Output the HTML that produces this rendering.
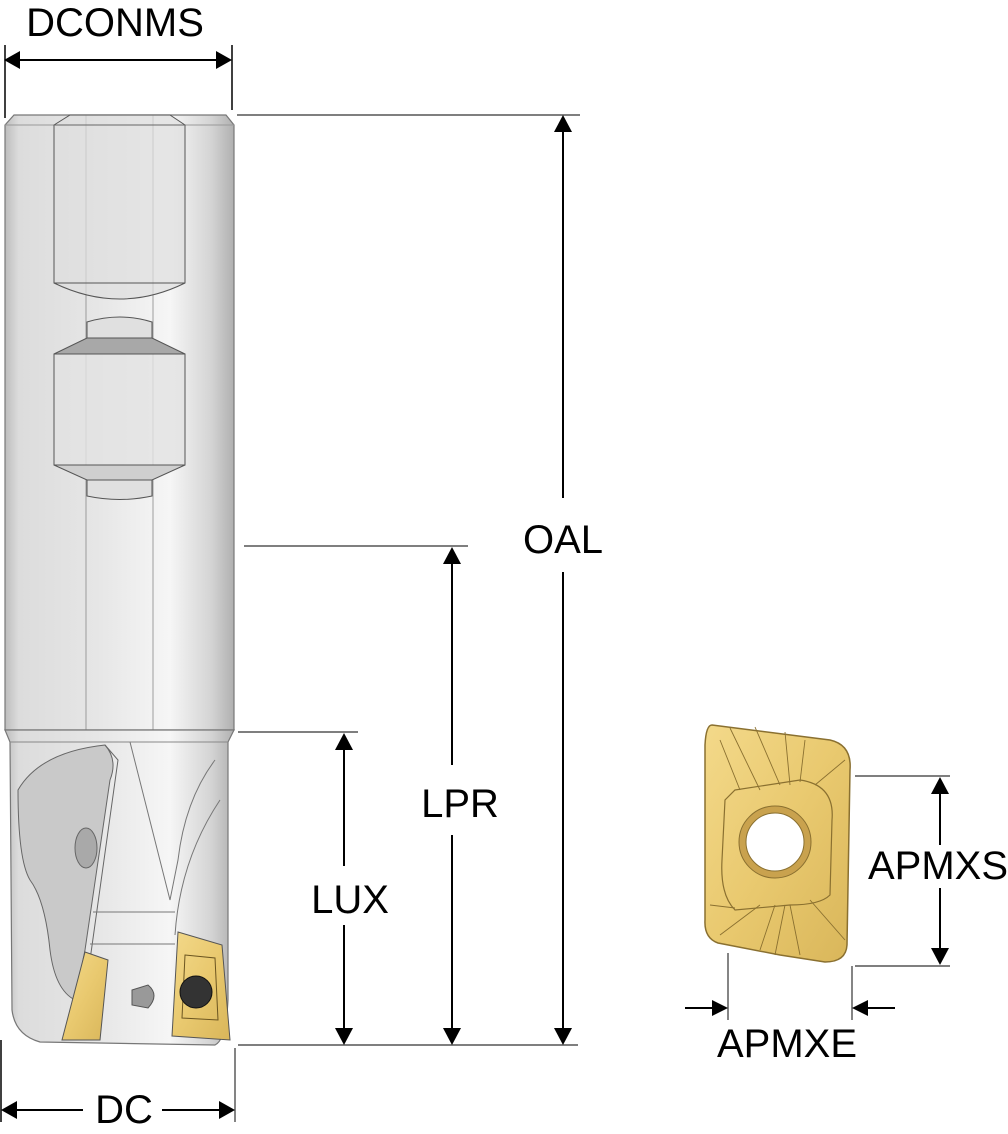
<!DOCTYPE html>
<html><head><meta charset="utf-8"><style>
html,body{margin:0;padding:0;background:#fff;}
svg{display:block;}
text{font-family:"Liberation Sans",sans-serif;font-size:40px;fill:#000;}
</style></head><body>
<svg width="1008" height="1134" viewBox="0 0 1008 1134" xmlns="http://www.w3.org/2000/svg">
<defs>
<linearGradient id="sh" x1="0" x2="1" y1="0" y2="0">
<stop offset="0" stop-color="#bdbdbd"/>
<stop offset="0.06" stop-color="#dcdcdc"/>
<stop offset="0.4" stop-color="#e6e6e6"/>
<stop offset="0.72" stop-color="#f6f6f6"/>
<stop offset="0.9" stop-color="#d4d4d4"/>
<stop offset="1" stop-color="#b0b0b0"/>
</linearGradient>
<linearGradient id="gold" x1="0" x2="1" y1="0" y2="1">
<stop offset="0" stop-color="#f3d98a"/>
<stop offset="0.5" stop-color="#e9c96f"/>
<stop offset="1" stop-color="#d9b65a"/>
</linearGradient>
</defs>
<path d="M5 125 L14 115 L226 115 L234 125 L234 730 L5 730 Z" fill="url(#sh)" stroke="#777" stroke-width="1.2"/>
<line x1="5" y1="125" x2="234" y2="125" stroke="#999" stroke-width="1"/>
<line x1="86" y1="115" x2="86" y2="730" stroke="#888" stroke-width="0.8"/>
<line x1="153" y1="115" x2="153" y2="730" stroke="#888" stroke-width="0.8"/>
<path d="M54 125 L70 115 L170 115 L185 125 L185 283 Q120 315 54 283 Z" fill="#dedede" fill-opacity="0.7" stroke="#555" stroke-width="1"/>
<line x1="54" y1="283" x2="185" y2="283" stroke="#555" stroke-width="1"/>
<line x1="54" y1="125" x2="185" y2="125" stroke="#666" stroke-width="1"/>
<path d="M87 338 L87 322 Q120 312 152 322 L152 338 Z" fill="#e0e0e0" stroke="#555" stroke-width="1"/>
<path d="M87 338 L152 338 L185 354 L54 354 Z" fill="#a8a8a8" stroke="#555" stroke-width="1"/>
<rect x="54" y="354" width="131" height="111" fill="#e2e2e2" fill-opacity="0.8" stroke="#555" stroke-width="1"/>
<path d="M54 465 L185 465 L152 480 L87 480 Z" fill="#cfcfcf" stroke="#555" stroke-width="1"/>
<path d="M87 480 L152 480 L152 496 Q120 503 87 496 Z" fill="#e0e0e0" stroke="#555" stroke-width="1"/>
<path d="M5 730 L234 730 L228 742 L228 1000 Q226 1040 215 1045 L40 1042 Q15 1035 12 1010 L10 742 Z" fill="url(#sh)" stroke="#777" stroke-width="1.2"/>
<line x1="10" y1="742" x2="228" y2="742" stroke="#888" stroke-width="1"/>
<path d="M18 790 Q40 752 105 745 Q118 760 110 780 L85 950 L75 1000 Q55 990 50 950 Q45 900 30 880 Q18 860 18 790 Z" fill="#c9c9c9" stroke="#666" stroke-width="1"/>
<path d="M105 745 L118 760 L90 960" fill="none" stroke="#666" stroke-width="1"/>
<ellipse cx="86" cy="848" rx="11" ry="20" fill="#a9a9a9" stroke="#666"/>
<path d="M130 742 L170 900 L178 860 Q185 800 215 760" fill="none" stroke="#777" stroke-width="1"/>
<path d="M175 935 Q180 860 220 800" fill="none" stroke="#777" stroke-width="1"/>
<line x1="93" y1="912" x2="175" y2="912" stroke="#777" stroke-width="1"/>
<line x1="90" y1="944" x2="175" y2="944" stroke="#777" stroke-width="1"/>
<path d="M85 952 L108 960 L100 1040 L62 1040 Z" fill="url(#gold)" stroke="#555" stroke-width="1"/>
<path d="M178 932 L222 945 L230 1040 L172 1036 Z" fill="url(#gold)" stroke="#555" stroke-width="1"/>
<path d="M185 955 L215 958 L218 1020 L182 1018 Z" fill="none" stroke="#6b5520" stroke-width="1"/>
<circle cx="196" cy="992" r="16" fill="#333" stroke="#111"/>
<path d="M132 990 L148 985 Q160 995 148 1008 L132 1005 Z" fill="#999" stroke="#555"/>
<path d="M712 725 L830 740 Q852 745 850 770 L847 945 Q846 962 825 962 L780 955 L718 943 Q704 938 705 920 L705 745 Q706 725 712 725 Z" fill="url(#gold)" stroke="#8a7030" stroke-width="1.5"/>
<path d="M735 790 L800 780 Q835 785 832 820 L830 895 Q820 905 790 905 L735 910 Q720 895 722 860 L725 800 Z" fill="none" stroke="#8a7030" stroke-width="1.2"/>
<g stroke="#8a7030" stroke-width="0.9" fill="none">
<line x1="720" y1="740" x2="740" y2="790"/><line x1="755" y1="727" x2="780" y2="785"/>
<line x1="785" y1="732" x2="790" y2="785"/><line x1="845" y1="760" x2="815" y2="785"/>
<line x1="720" y1="935" x2="760" y2="905"/><line x1="775" y1="955" x2="785" y2="905"/>
<line x1="800" y1="955" x2="790" y2="905"/><line x1="845" y1="940" x2="810" y2="900"/>
<line x1="730" y1="728" x2="760" y2="790"/><line x1="805" y1="740" x2="800" y2="782"/>
<line x1="710" y1="905" x2="735" y2="908"/><line x1="760" y1="950" x2="775" y2="905"/>
</g>
<circle cx="775" cy="842" r="36" fill="#c9a24e" stroke="#8a7030"/>
<circle cx="775" cy="842" r="29" fill="#fff" stroke="#8a7030"/>
<g stroke="#000" stroke-width="2" fill="none">
<line x1="5" y1="45" x2="5" y2="118" stroke-width="1.5"/>
<line x1="232" y1="45" x2="232" y2="110" stroke-width="1.5"/>
<line x1="20" y1="60" x2="218" y2="60"/>
<line x1="563" y1="130" x2="563" y2="498"/>
<line x1="563" y1="572" x2="563" y2="1030"/>
<line x1="452" y1="562" x2="452" y2="765"/>
<line x1="452" y1="835" x2="452" y2="1030"/>
<line x1="344" y1="747" x2="344" y2="866"/>
<line x1="344" y1="925" x2="344" y2="1030"/>
<line x1="16" y1="1110" x2="83" y2="1110"/>
<line x1="162" y1="1110" x2="222" y2="1110"/>
<line x1="1" y1="1040" x2="1" y2="1122" stroke-width="1.5"/>
<line x1="940" y1="790" x2="940" y2="845"/>
<line x1="940" y1="888" x2="940" y2="952"/>
<line x1="685" y1="1008" x2="714" y2="1008"/>
<line x1="866" y1="1008" x2="895" y2="1008"/>
</g>
<g stroke="#333" stroke-width="1.2">
<line x1="237" y1="115" x2="580" y2="115"/>
<line x1="244" y1="546" x2="468" y2="546"/>
<line x1="238" y1="732" x2="358" y2="732"/>
<line x1="238" y1="1045" x2="578" y2="1045"/>
<line x1="235" y1="1048" x2="235" y2="1122"/>
<line x1="855" y1="776" x2="950" y2="776"/>
<line x1="855" y1="966" x2="950" y2="966"/>
<line x1="728" y1="953" x2="728" y2="1020"/>
<line x1="852" y1="966" x2="852" y2="1020"/>
</g>
<g fill="#000">
<polygon points="4,60 20,51 20,69"/><polygon points="232,60 216,51 216,69"/>
<polygon points="563,115 554,132 572,132"/><polygon points="563,1045 554,1028 572,1028"/>
<polygon points="452,547 443,564 461,564"/><polygon points="452,1045 443,1028 461,1028"/>
<polygon points="344,733 335,750 353,750"/><polygon points="344,1045 335,1028 353,1028"/>
<polygon points="1,1110 17,1101 17,1119"/><polygon points="235,1110 219,1101 219,1119"/>
<polygon points="940,777 931,794 949,794"/><polygon points="940,965 931,948 949,948"/>
<polygon points="728,1008 712,1000 712,1016"/><polygon points="852,1008 868,1000 868,1016"/>
</g>
<text x="115" y="36" text-anchor="middle">DCONMS</text>
<text x="563" y="553" text-anchor="middle">OAL</text>
<text x="460" y="817" text-anchor="middle">LPR</text>
<text x="350" y="913" text-anchor="middle">LUX</text>
<text x="124" y="1123" text-anchor="middle">DC</text>
<text x="938" y="879" text-anchor="middle">APMXS</text>
<text x="787" y="1057" text-anchor="middle">APMXE</text>
</svg>
</body></html>
